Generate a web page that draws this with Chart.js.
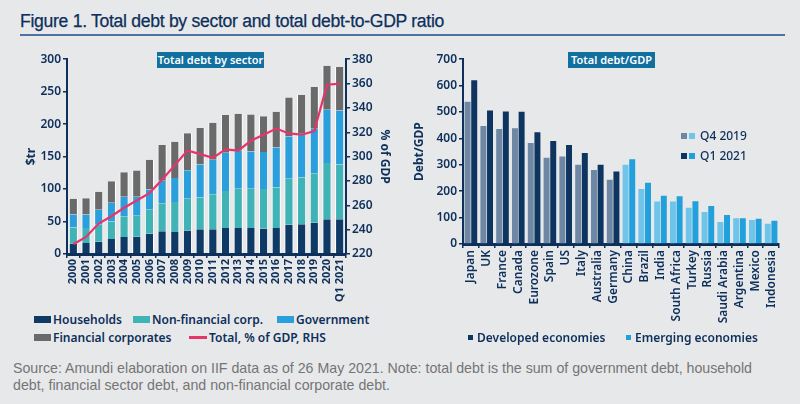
<!DOCTYPE html>
<html>
<head>
<meta charset="utf-8">
<script src="https://cdn.jsdelivr.net/npm/chart.js@4"></script>
<style>
  body { margin: 0; background: #e7e8ea; width: 800px; height: 404px; overflow: hidden; position: relative; font-family: "Noto Sans", sans-serif; color: #0d2f5a; }
  #titulo { position: absolute; left: 20px; top: 11px; font-family: "Liberation Sans", sans-serif; font-size: 17.6px; letter-spacing: -0.3px; color: #0d2f5a; white-space: nowrap; -webkit-text-stroke: 0.25px #0d2f5a; }
  #linea { position: absolute; left: 20px; top: 34px; width: 765px; height: 2px; background: #4f73a0; }
  .caja { position: absolute; background: #12709f; color: #fff; font-size: 11px; font-weight: 600; height: 16px; line-height: 16px; text-align: center; white-space: nowrap; }
  .wrap { position: absolute; top: 50px; width: 400px; }
  .ley { position: absolute; font-size: 12px; font-weight: 600; white-space: nowrap; line-height: 14px; }
  .ley i { display: inline-block; vertical-align: middle; margin-right: 2px; position: relative; top: -1px; }
  #fuente { position: absolute; left: 13px; top: 360px; width: 760px; font-family: "Liberation Sans", sans-serif; font-size: 14.2px; color: #757575; line-height: 17px; }
</style>
</head>
<body>
<div id="titulo">Figure 1. Total debt by sector and total debt-to-GDP ratio</div>
<div id="linea"></div>

<div class="wrap" style="left:0; height:260px"><canvas id="grafico1" width="400" height="260"></canvas></div>
<div class="wrap" style="left:400px; height:290px"><canvas id="grafico2" width="400" height="290"></canvas></div>

<div class="caja" style="left:157px; top:52px; width:107px;">Total debt by sector</div>
<div class="caja" style="left:568px; top:52px; width:87px;">Total debt/GDP</div>

<!-- leyenda izquierda -->
<div class="ley" style="left:34px; top:313px"><i style="width:17px;height:7px;background:#0f3a66"></i>Households</div>
<div class="ley" style="left:133px; top:313px"><i style="width:17px;height:7px;background:#3fb3b5"></i>Non-financial corp.</div>
<div class="ley" style="left:277px; top:313px"><i style="width:17px;height:7px;background:#2a9fdc"></i>Government</div>
<div class="ley" style="left:34px; top:331px"><i style="width:17px;height:7px;background:#6a6a6a"></i>Financial corporates</div>
<div class="ley" style="left:189px; top:331px"><i style="width:18px;height:3px;background:#e8336b"></i>Total, % of GDP, RHS</div>

<!-- leyenda derecha dentro del grafico -->
<div class="ley" style="left:681px; top:129px; font-weight:500"><i style="width:6px;height:6px;background:#6d87a4"></i><i style="width:6px;height:6px;background:#6fc4ea;margin-right:5px"></i>Q4 2019</div>
<div class="ley" style="left:681px; top:149px; font-weight:500"><i style="width:6px;height:6px;background:#0e3560"></i><i style="width:6px;height:6px;background:#21a0db;margin-right:5px"></i>Q1 2021</div>

<!-- leyenda derecha abajo -->
<div class="ley" style="left:468px; top:331px"><i style="width:5px;height:5px;background:#0e3560;margin-right:4px"></i>Developed economies</div>
<div class="ley" style="left:626px; top:331px"><i style="width:5px;height:5px;background:#21a0db;margin-right:4px"></i>Emerging economies</div>

<div id="fuente">Source: Amundi elaboration on IIF data as of 26 May 2021. Note: total debt is the sum of government debt, household debt, financial sector debt, and non-financial corporate debt.</div>

<script>
/* Datos: deuda total por sector ($tr) */
const anios = ['2000', '2001', '2002', '2003', '2004', '2005', '2006', '2007', '2008', '2009', '2010',
	'2011', '2012', '2013', '2014', '2015', '2016', '2017', '2018', '2019', '2020', 'Q1 2021'];
const hogares = [16, 17, 19, 23, 26, 26.5, 31, 35, 34, 36, 38, 38, 40, 40, 40, 39, 40, 45, 46, 48, 53.5, 53.5];
const corpNoFin = [25, 23, 26, 27, 32, 32.5, 37, 43, 46, 49, 49, 54, 57, 60.5, 60.5, 61, 62.5, 71, 72, 76.5, 86.5, 84.5];
const gobierno = [20, 21, 23, 29, 30, 29, 31.5, 35, 37, 44, 51, 53, 59, 58.5, 57.5, 57, 61.5, 65, 67, 68.5, 82, 83];
const corpFin = [24, 25, 28, 33, 38, 40.5, 45.5, 55, 56, 57, 56, 57, 58, 57, 57, 55, 55, 60, 60, 64, 68, 67];
const totalPib = [228, 234, 245, 251, 258, 264, 270, 281, 293, 305, 302, 299, 306, 305, 313, 318, 323, 319, 318, 321, 359, 360];

/* Datos: deuda total / PIB por pais */
const paises = ['Japan', 'UK', 'France', 'Canada', 'Eurozone', 'Spain', 'US', 'Italy', 'Australia', 'Germany',
	'China', 'Brazil', 'India', 'South Africa', 'Turkey', 'Russia', 'Saudi Arabia', 'Argentina', 'Mexico', 'Indonesia'];
const q4_2019 = [539, 447, 436, 438, 383, 327, 331, 300, 280, 243, 300, 208, 161, 161, 137, 121, 83, 98, 91, 77];
const q1_2021 = [620, 506, 502, 501, 423, 390, 375, 345, 300, 275, 321, 232, 183, 181, 162, 144, 110, 98, 96, 88];
const numDesarrolladas = 10;

const azul = '#0d2f5a';
const fuente = "'Noto Sans', sans-serif";

function fijarAncho(w) { return function (s) { s.width = w; }; }
function fijarAlto(h) { return function (s) { s.height = h; }; }

/* ########### Grafico de deuda por sector ########## */
const bordeBlanco = { borderColor: '#ffffff', borderWidth: { left: 1, right: 1, top: 0, bottom: 0 }, borderSkipped: false };
new Chart(document.getElementById('grafico1'), {
	type: 'bar',
	data: {
		labels: anios,
		datasets: [
			{ label: 'Total, % of GDP, RHS', type: 'line', data: totalPib, yAxisID: 'y1', borderColor: '#e8336b', borderWidth: 2.2, pointRadius: 0, tension: 0, order: 0 },
			Object.assign({ label: 'Households', data: hogares, backgroundColor: '#0f3a66', order: 1 }, bordeBlanco),
			Object.assign({ label: 'Non-financial corp.', data: corpNoFin, backgroundColor: '#3fb3b5', order: 1 }, bordeBlanco),
			Object.assign({ label: 'Government', data: gobierno, backgroundColor: '#2a9fdc', order: 1 }, bordeBlanco),
			Object.assign({ label: 'Financial corporates', data: corpFin, backgroundColor: '#6a6a6a', order: 1 }, bordeBlanco)
		]
	},
	options: {
		responsive: false,
		animation: false,
		maintainAspectRatio: false,
		layout: { padding: { left: 24, right: 8, top: 8, bottom: 0 } },
		datasets: { bar: { barPercentage: 0.72, categoryPercentage: 1 } },
		plugins: { legend: { display: false }, tooltip: { enabled: false } },
		scales: {
			x: {
				stacked: true,
				afterFit: fijarAlto(56),
				grid: { display: true, drawOnChartArea: false, drawTicks: true, tickLength: 4, color: azul, lineWidth: 1.5 },
				border: { display: true, color: azul, width: 3 },
				ticks: { color: azul, font: { family: fuente, size: 11, weight: 'bold' }, minRotation: 90, maxRotation: 90, autoSkip: false, padding: 1 }
			},
			y: {
				stacked: true,
				min: 0, max: 300,
				afterFit: fijarAncho(43),
				grid: { display: true, drawOnChartArea: false, drawTicks: true, tickLength: 4, color: azul, lineWidth: 1.5 },
				border: { display: true, color: azul, width: 2 },
				ticks: { stepSize: 50, color: azul, font: { family: fuente, size: 12, weight: 600 }, padding: 2 },
				title: { display: true, text: '$tr', color: azul, font: { family: fuente, size: 12, weight: 'bold' }, padding: 0 }
			},
			y1: {
				position: 'right',
				min: 220, max: 380,
				afterFit: fijarAncho(46),
				grid: { display: true, drawOnChartArea: false, drawTicks: true, tickLength: 4, color: azul, lineWidth: 1.5 },
				border: { display: true, color: azul, width: 2 },
				ticks: { stepSize: 20, color: azul, font: { family: fuente, size: 12, weight: 600 }, padding: 2 },
				title: { display: true, text: '% of GDP', color: azul, font: { family: fuente, size: 12, weight: 'bold' }, padding: 0 }
			}
		}
	}
});

/* ########### Grafico deuda / PIB ########## */
const coloresQ4 = paises.map((p, i) => i < numDesarrolladas ? '#6d87a4' : '#6fc4ea');
const coloresQ1 = paises.map((p, i) => i < numDesarrolladas ? '#0e3560' : '#21a0db');

new Chart(document.getElementById('grafico2'), {
	type: 'bar',
	data: {
		labels: paises,
		datasets: [
			{ label: 'Q4 2019', data: q4_2019, backgroundColor: coloresQ4 },
			{ label: 'Q1 2021', data: q1_2021, backgroundColor: coloresQ1 }
		]
	},
	options: {
		responsive: false,
		animation: false,
		maintainAspectRatio: false,
		layout: { padding: { left: 12, right: 21, top: 9, bottom: 0 } },
		datasets: { bar: { barPercentage: 0.9, categoryPercentage: 0.84 } },
		plugins: { legend: { display: false }, tooltip: { enabled: false } },
		scales: {
			x: {
				afterFit: fijarAlto(96),
				grid: { display: true, drawOnChartArea: false, drawTicks: true, tickLength: 4, color: azul, lineWidth: 1.5 },
				border: { display: true, color: azul, width: 3 },
				ticks: { color: azul, font: { family: fuente, size: 12, weight: 600 }, minRotation: 90, maxRotation: 90, autoSkip: false, padding: 2 }
			},
			y: {
				min: 0, max: 700,
				afterFit: fijarAncho(51),
				grid: { display: true, drawOnChartArea: false, drawTicks: true, tickLength: 4, color: azul, lineWidth: 1.5 },
				border: { display: true, color: azul, width: 2 },
				ticks: { stepSize: 100, color: azul, font: { family: fuente, size: 12, weight: 600 }, padding: 2 },
				title: { display: true, text: 'Debt/GDP', color: azul, font: { family: fuente, size: 12, weight: 'bold' }, padding: 0 }
			}
		}
	}
});
</script>
</body>
</html>
